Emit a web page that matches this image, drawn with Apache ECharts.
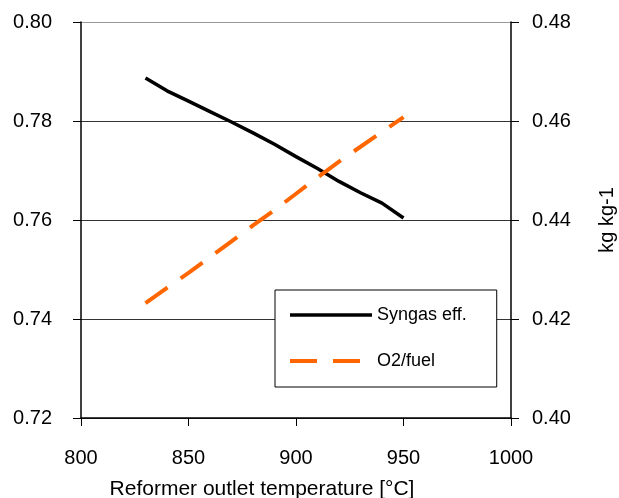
<!DOCTYPE html>
<html>
<head>
<meta charset="utf-8">
<script src="https://cdn.jsdelivr.net/npm/echarts@6/dist/echarts.min.js"></script>
<style>
  html, body { margin: 0; padding: 0; background: #fff; }
  #chart { width: 619px; height: 498px; }
</style>
</head>
<body>
<div id="chart"></div>
<script>
// temperatures
var temps = [830, 840, 850, 860, 870, 880, 890, 900, 910, 920, 930, 940, 950];
// left axis
var syngasEff = [0.7887, 0.7861, 0.7840, 0.7819, 0.7798, 0.7776, 0.7753, 0.7728, 0.7704, 0.7678, 0.7655, 0.7634, 0.7604];
// right axis, kg kg-1
var o2Fuel = [0.4232, 0.4263, 0.4293, 0.4325, 0.4357, 0.4389, 0.4420, 0.4453, 0.4486, 0.4518, 0.4548, 0.4578, 0.4608];

function pairs(xs, ys) {
  return xs.map(function (x, i) { return [x, ys[i]]; });
}

var font = 'Liberation Sans, Arial, sans-serif';
var chart = echarts.init(document.getElementById('chart'));

var option = {
  animation: false,
  backgroundColor: '#fff',
  textStyle: { fontFamily: font, color: '#000' },
  grid: { left: 81, right: 108, top: 22, bottom: 80, outerBoundsMode: 'none' },
  legend: {
    orient: 'vertical',
    left: 275,
    top: 290,
    padding: [16, 30, 17, 13],
    itemWidth: 82,
    itemHeight: 14,
    itemGap: 28,
    borderColor: '#000',
    borderWidth: 1,
    backgroundColor: '#fff',
    itemStyle: { opacity: 0 },
    textStyle: { fontSize: 18, color: '#000', fontFamily: font },
    data: [
      { name: 'Syngas eff.', lineStyle: { width: 3.5 } },
      { name: 'O2/fuel', lineStyle: { width: 4 } }
    ]
  },
  xAxis: {
    type: 'value',
    min: 800,
    max: 1000,
    interval: 50,
    name: 'Reformer outlet temperature [°C]',
    nameLocation: 'middle',
    nameGap: 61,
    nameTextStyle: { fontSize: 21, color: '#000', padding: [0, 68, 0, 0] },
    axisLine: { lineStyle: { color: '#000', width: 1.5 } },
    axisTick: { show: true, inside: false, length: 8, lineStyle: { color: '#000' } },
    axisLabel: {
      fontSize: 20, color: '#000', margin: 30,
      formatter: function (v) { return String(v); }
    },
    splitLine: { show: false }
  },
  yAxis: [
    {
      type: 'value',
      min: 0.72,
      max: 0.80,
      interval: 0.02,
      position: 'left',
      axisLine: { show: true, lineStyle: { color: '#000', width: 1.5 } },
      axisTick: { show: true, length: 8, lineStyle: { color: '#000' } },
      axisLabel: {
        fontSize: 20, color: '#000', margin: 29,
        formatter: function (v) { return v.toFixed(2); }
      },
      splitLine: { show: true, lineStyle: { color: ['#333', '#333', '#333', '#333', '#999'], width: 1 } }
    },
    {
      type: 'value',
      min: 0.40,
      max: 0.48,
      interval: 0.02,
      position: 'right',
      name: 'kg kg-1',
      nameLocation: 'middle',
      nameGap: 86,
      nameRotate: 90,
      nameTextStyle: { fontSize: 20, color: '#000' },
      axisLine: { show: true, lineStyle: { color: '#000', width: 1.5 } },
      axisTick: { show: true, length: 8, lineStyle: { color: '#000' } },
      axisLabel: {
        fontSize: 20, color: '#000', margin: 21,
        formatter: function (v) { return v.toFixed(2); }
      },
      splitLine: { show: false }
    }
  ],
  series: [
    {
      name: 'Syngas eff.',
      type: 'line',
      yAxisIndex: 0,
      data: pairs(temps, syngasEff),
      symbol: 'none',
      color: '#000',
      lineStyle: { color: '#000', width: 3.5 }
    },
    {
      name: 'O2/fuel',
      type: 'line',
      yAxisIndex: 1,
      data: pairs(temps, o2Fuel),
      symbol: 'none',
      color: '#ff6600',
      lineStyle: { color: '#ff6600', width: 4, type: [27, 16] }
    }
  ]
};

chart.setOption(option);
</script>
</body>
</html>
